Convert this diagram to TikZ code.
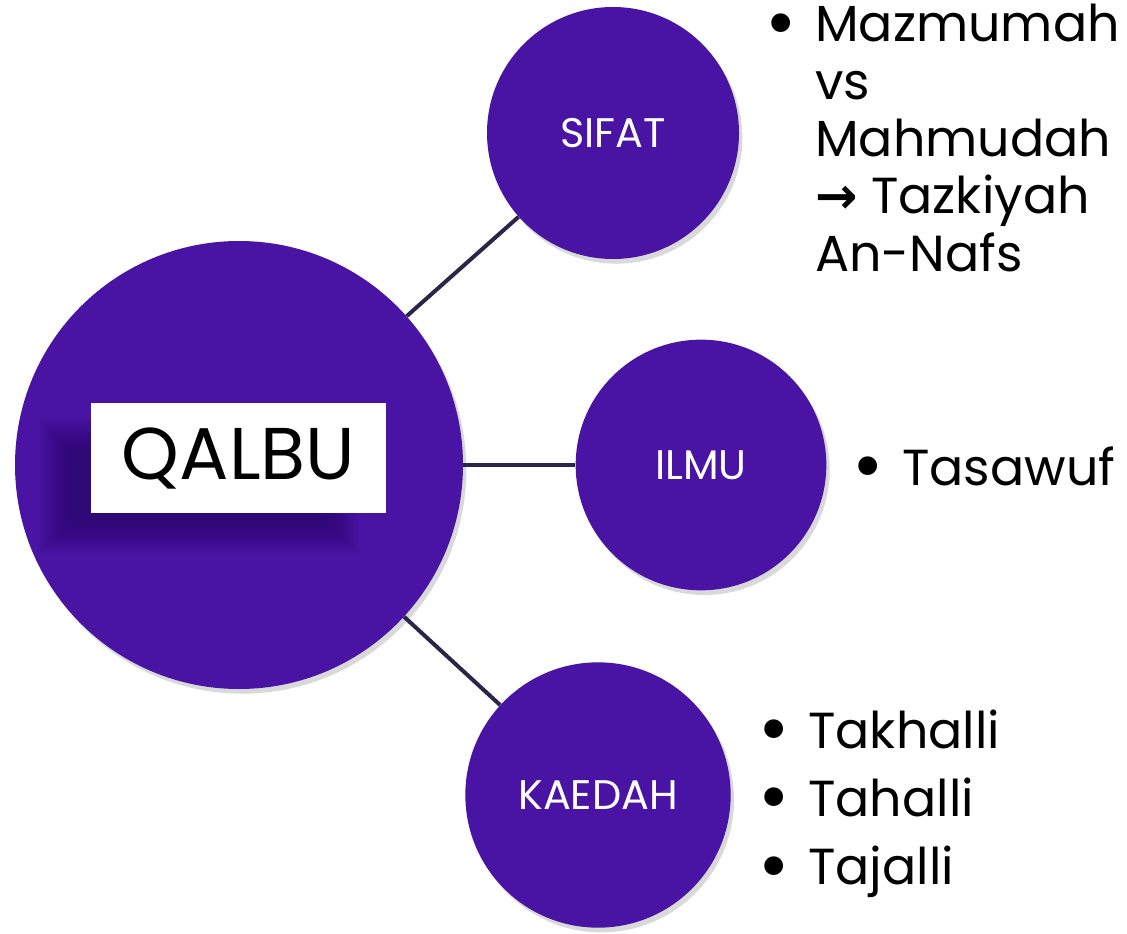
\documentclass[tikz,border=0pt]{standalone}
\usepackage{fontspec}
\setmainfont{Poppins}
\newfontfamily\arrowfont{DejaVu Sans}
\usetikzlibrary{shadows}
\definecolor{qpurple}{HTML}{4913A4}
\definecolor{qline}{HTML}{2B2547}
\definecolor{qshade}{HTML}{24085A}
\newcommand\bul{\makebox[0pt][r]{\raisebox{-0.13em}{\scalebox{1.5}{\textbullet}}\hspace{14pt}}}

\begin{document}
\begin{tikzpicture}[x=0.75pt, y=-0.75pt,
  bubble/.style={circle, fill=qpurple, text=white, inner sep=0pt, font=\fontsize{31}{36}\selectfont,
    drop shadow={shadow xshift=2.5pt, shadow yshift=-3.5pt, opacity=0.3}},
  link/.style={draw=qline, line width=3pt},
  titlebox/.style={fill=white, inner sep=0pt, minimum width=221pt, minimum height=82.5pt, font=\fontsize{55}{60}\selectfont},
  points/.style={anchor=base west, inner sep=0pt, font=\fontsize{38}{43}\selectfont}]
\useasboundingbox (0,0) rectangle (1127,934);

\node[bubble, minimum size=336pt] (qalbu) at (239,465) {};
\node[bubble, minimum size=189pt] (sifat) at (613,133) {SIFAT};
\node[bubble, minimum size=188pt] (ilmu) at (701,465) {ILMU};
\node[bubble, minimum size=199pt] (kaedah) at (598,795) {KAEDAH};

% soft shadow under the title
\foreach \g in {0,...,16}
  \fill[qshade, opacity=0.045] ({70-2*\g},{450-2*\g}) rectangle ({327+2*\g},{522+2*\g});
\node[titlebox] (title) at (238.5,458) {QALBU};

\draw[link] (qalbu) -- (sifat);
\draw[link] (qalbu) -- (ilmu);
\draw[link] (qalbu) -- (kaedah);

\node[points] (sifatpts) at (815,42) {\begin{tabular}[t]{@{}l@{}}
  \bul Mazmumah\\ vs\\ Mahmudah\\ {\arrowfont\bfseries →} Tazkiyah\\ An-Nafs\end{tabular}};
\node[points] (ilmupts) at (902,485) {\bul Tasawuf};
\node[points] (kaedahpts) at (808,748) {\renewcommand\arraystretch{1.19}\begin{tabular}[t]{@{}l@{}}
  \bul Takhalli\\ \bul Tahalli\\ \bul Tajalli\end{tabular}};
\end{tikzpicture}
\end{document}
